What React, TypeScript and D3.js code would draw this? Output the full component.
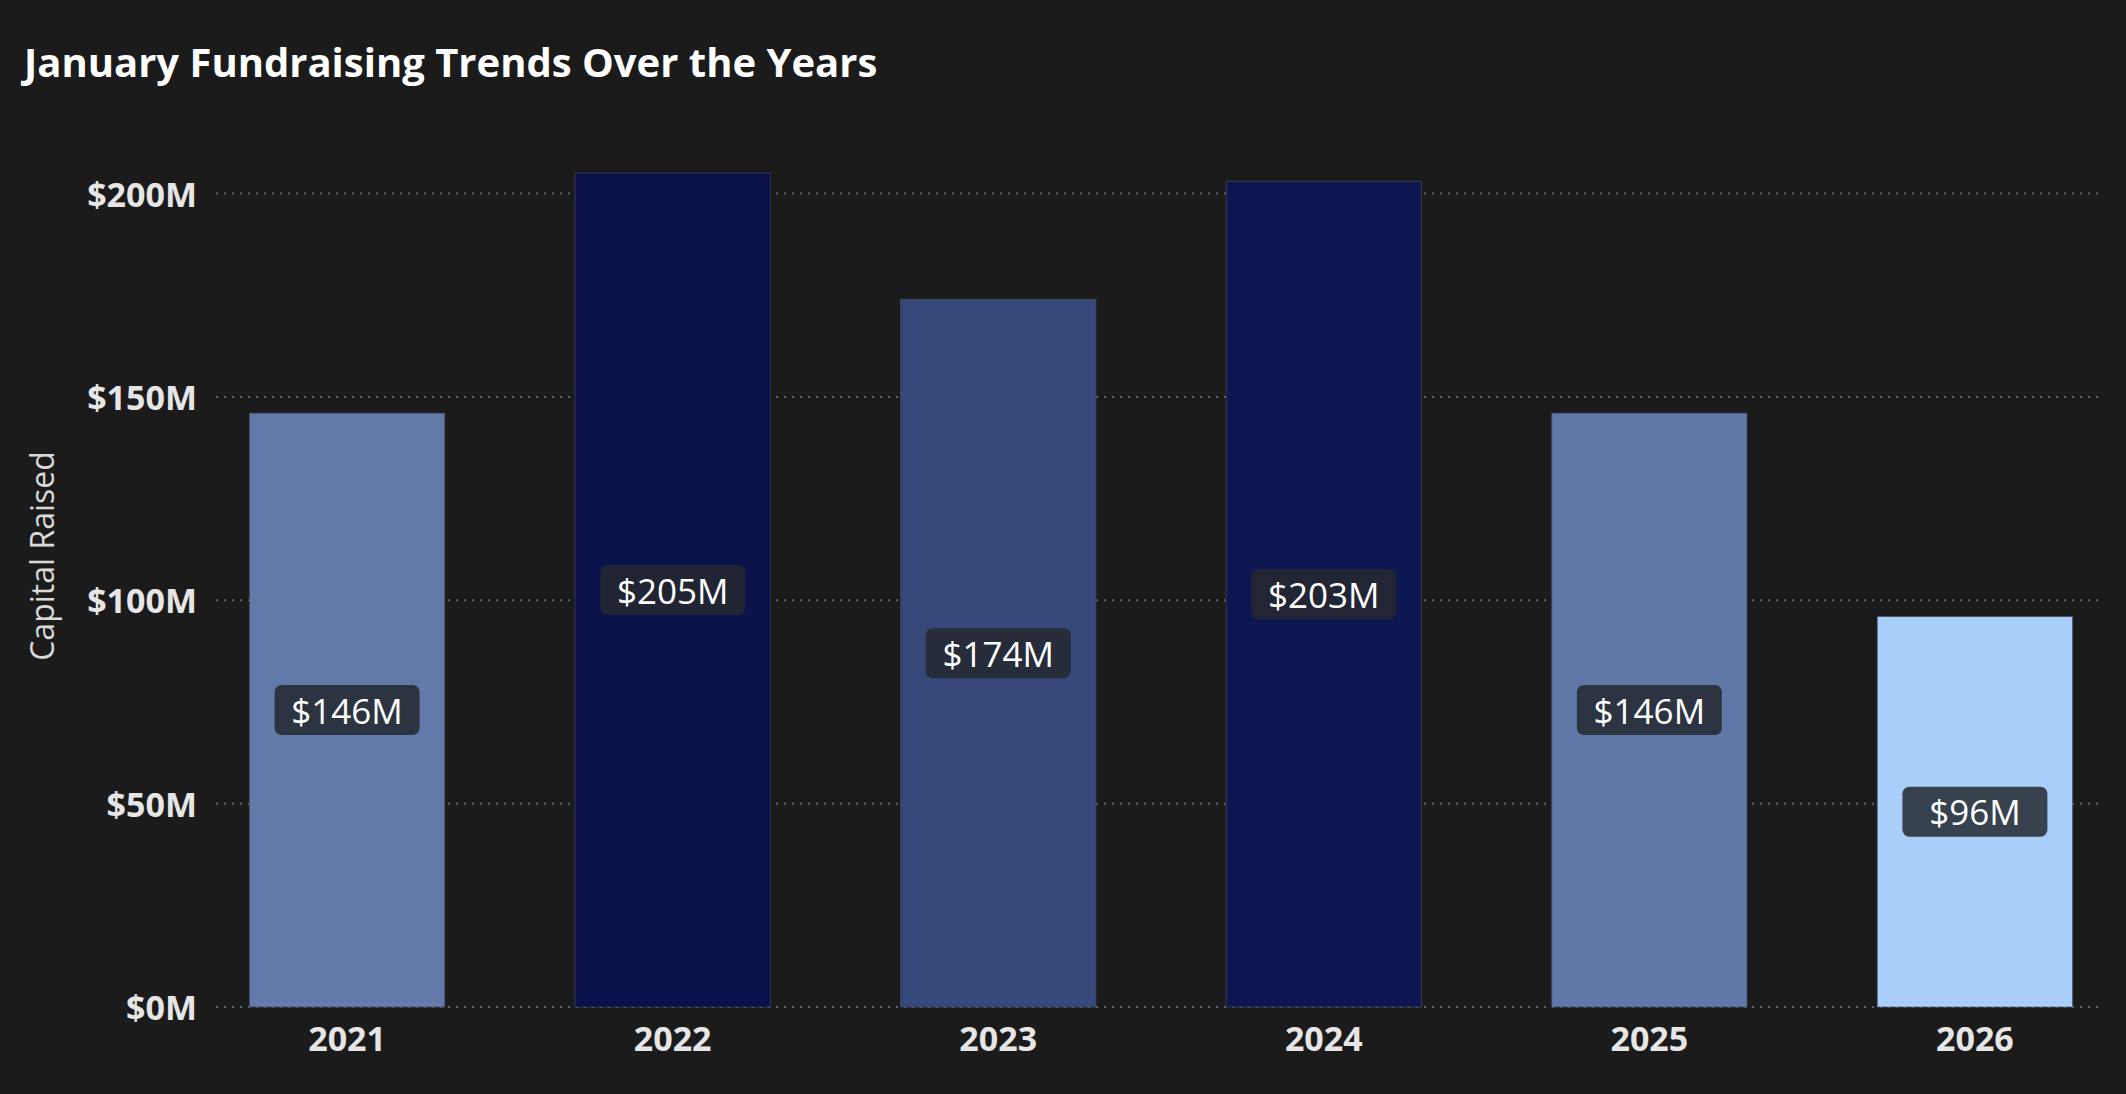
import React from "react";
import * as d3 from "d3";

const years = ["2021", "2022", "2023", "2024", "2025", "2026"];
const capitalRaised = [146, 205, 174, 203, 146, 96];
const barColors = ["#6279a9", "#0b114a", "#36477a", "#0e1752", "#5f78a8", "#aacefa"];
const yTicks = [0, 50, 100, 150, 200];
const title = "January Fundraising Trends Over the Years";
const yTitle = "Capital Raised";

const W = 2126;
const H = 1094;
const FONT = "'Open Sans', 'Noto Sans', sans-serif";

export default function App() {
  const x = d3.scaleBand<string>().domain(years).range([218, 2104]).paddingInner(0.4).paddingOuter(0.0965);
  const y = d3.scaleLinear().domain([0, 200]).range([1007, 193.5]);
  const fmt = (v: number) => `$${d3.format("d")(v)}M`;
  const gridX0 = 216;
  const gridX1 = 2100;
  const boxW = 145;
  const boxH = 50;

  return (
    <svg width={W} height={H} style={{ position: "absolute", left: 0, top: 0, display: "block" }}>
      <rect x={0} y={0} width={W} height={H} fill="#1b1b1b" />
      <text x={24} y={77} fill="#ffffff" fontFamily={FONT} fontWeight={700} fontSize={40}>
        {title}
      </text>
      {yTicks.map((t) => (
        <g key={t}>
          <line x1={gridX0} x2={gridX1} y1={y(t)} y2={y(t)} stroke="#5b6478" strokeWidth={2} strokeDasharray="2 6" />
          <text x={197} y={y(t)} textAnchor="end" dominantBaseline="central" fill="#e6e6e6" fontFamily={FONT} fontWeight={700} fontSize={34}>
            {fmt(t)}
          </text>
        </g>
      ))}
      <text
        transform={`translate(41,556) rotate(-90)`}
        textAnchor="middle"
        dominantBaseline="central"
        fill="#d9d9d9"
        fontFamily={FONT}
        fontSize={32}
      >
        {yTitle}
      </text>
      {years.map((yr, i) => {
        const v = capitalRaised[i];
        const bx = x(yr) as number;
        const bw = x.bandwidth();
        const cx = bx + bw / 2;
        const cy = (y(v) + y(0)) / 2;
        return (
          <g key={yr}>
            <rect x={bx} y={y(v)} width={bw} height={y(0) - y(v)} fill={barColors[i]} stroke="rgba(70,74,90,0.7)" strokeWidth={1} />
            <rect x={cx - boxW / 2} y={cy - boxH / 2} width={boxW} height={boxH} rx={7} fill="#25282f" fillOpacity={0.85} />
            <text x={cx} y={cy} textAnchor="middle" dominantBaseline="central" fill="#ffffff" fontFamily={FONT} fontSize={35}>
              {fmt(v)}
            </text>
            <text x={cx} y={1051} textAnchor="middle" fill="#e6e6e6" fontFamily={FONT} fontWeight={700} fontSize={34}>
              {yr}
            </text>
          </g>
        );
      })}
    </svg>
  );
}
